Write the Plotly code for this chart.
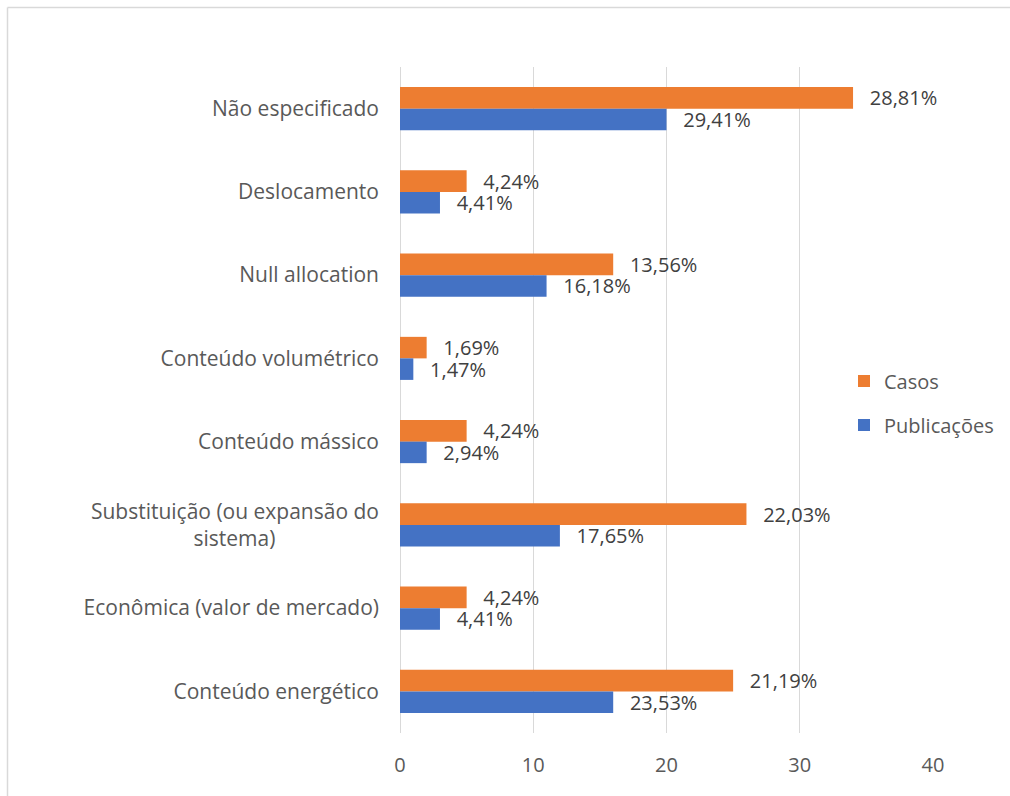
import plotly.graph_objects as go

# Allocation methods, listed top to bottom
categorias = [
    "Não especificado",
    "Deslocamento",
    "Null allocation",
    "Conteúdo volumétrico",
    "Conteúdo mássico",
    "Substituição (ou expansão do<br>sistema)" + "\u00a0" * 19,
    "Econômica (valor de mercado)",
    "Conteúdo energético",
]

# Number of occurrences per method
casos = [34, 5, 16, 2, 5, 26, 5, 25]
publicacoes = [20, 3, 11, 1, 2, 12, 3, 16]

x_ticks = [0, 10, 20, 30, 40]

COR_CASOS = "#ED7D31"
COR_PUB = "#4472C4"
FONTE = "Open Sans"
PAD = "\u00a0\u00a0\u2009"


def rotulos(valores):
    total = sum(valores)
    return [PAD + f"{v / total * 100:.2f}".replace(".", ",") + "%" for v in valores]


fig = go.Figure()
fig.add_trace(go.Bar(
    y=categorias, x=casos, name="Casos", orientation="h",
    marker=dict(color=COR_CASOS, line=dict(width=0)),
    text=rotulos(casos), textposition="outside", cliponaxis=False,
    constraintext="none",
    textfont=dict(family=FONTE, size=20, color="#404040"),
    legendgroup="a",
))
fig.add_trace(go.Bar(
    y=categorias, x=publicacoes, name="Publicações", orientation="h",
    marker=dict(color=COR_PUB, line=dict(width=0)),
    text=rotulos(publicacoes), textposition="outside", cliponaxis=False,
    constraintext="none",
    textfont=dict(family=FONTE, size=20, color="#404040"),
    legendgroup="b",
))

L, R, T, B = 400, 77, 67, 63
W, H = 1010, 796
pw, ph = W - L - R, H - T - B

def px(x):
    return (x - L) / pw

def py(y):
    return (H - B - y) / ph

fig.update_layout(
    width=W, height=H,
    margin=dict(l=L, r=R, t=T, b=B, pad=0, autoexpand=False),
    paper_bgcolor="white", plot_bgcolor="white",
    barmode="group", bargap=0.483, bargroupgap=0,
    font=dict(family=FONTE, size=20, color="#595959"),
    showlegend=True,
    legend=dict(
        xref="container", yref="container",
        x=844 / W, y=(H - 403) / H, xanchor="left", yanchor="middle",
        bgcolor="rgba(0,0,0,0)", font=dict(family=FONTE, size=20, color="#595959"),
        tracegroupgap=15, traceorder="grouped",
    ),
    xaxis=dict(
        range=[0, 40], tickvals=x_ticks, showgrid=True, gridcolor="#D9D9D9", gridwidth=1,
        zeroline=True, zerolinecolor="#D9D9D9", zerolinewidth=1,
        showline=False, ticks="", ticklabelstandoff=18, fixedrange=True,
        automargin=False,
    ),
    yaxis=dict(
        categoryorder="array", categoryarray=categorias, autorange="reversed",
        showgrid=False, zeroline=False, showline=False, ticks="",
        ticklabelstandoff=20, fixedrange=True, automargin=False,
        tickfont=dict(family=FONTE, size=21, color="#595959"),
    ),
    shapes=[
        # chart frame: top and left edges
        dict(type="line", xref="paper", yref="paper", x0=px(7.5), x1=px(W),
             y0=py(7.5), y1=py(7.5), line=dict(color="#D9D9D9", width=1.5)),
        dict(type="line", xref="paper", yref="paper", x0=px(7.5), x1=px(7.5),
             y0=py(7.5), y1=py(H), line=dict(color="#D9D9D9", width=1.5)),
    ],
)

fig.write_html("out.html", config={"displayModeBar": False})
